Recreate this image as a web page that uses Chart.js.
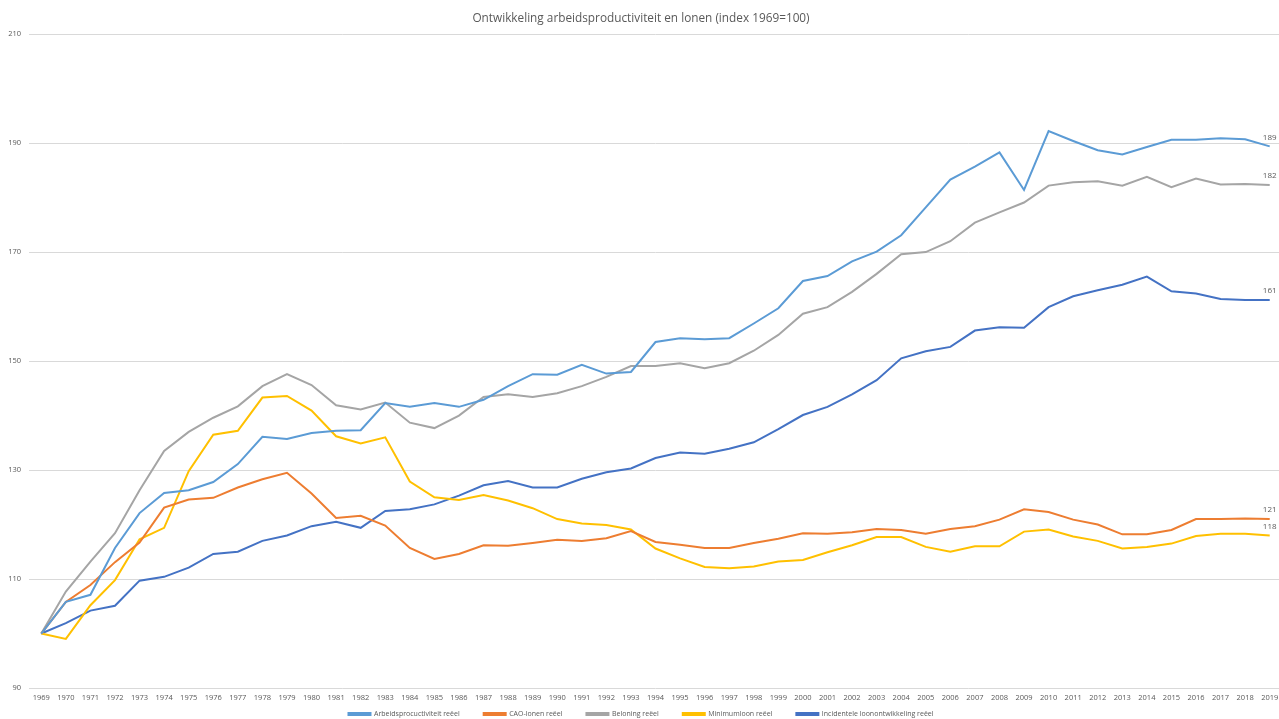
<!DOCTYPE html>
<html>
<head>
<meta charset="utf-8">
<script src="https://cdn.jsdelivr.net/npm/chart.js@4"></script>
<style>
  html, body { margin: 0; padding: 0; background: #fff; overflow: hidden; }
  #wrap { width: 1290px; height: 719px; position: relative; }
</style>
</head>
<body>
<div id="wrap"><canvas id="loonChart"></canvas></div>
<script>
// Years on the category axis
const years = [];
for (let y = 1969; y <= 2019; y++) years.push(String(y));

// Series values (index 1969 = 100)
const arbeidsproductiviteit = [
  100, 105.8, 107.1, 115.7, 122.1, 125.8, 126.3, 127.8, 131.1, 136.1,
  135.7, 136.8, 137.2, 137.3, 142.3, 141.6, 142.3, 141.6, 142.9, 145.4,
  147.6, 147.5, 149.3, 147.7, 148.0, 153.5, 154.2, 154.0, 154.2, 156.9,
  159.7, 164.7, 165.6, 168.3, 170.1, 173.1, 178.2, 183.3, 185.7, 188.3,
  181.4, 192.2, 190.4, 188.7, 187.9, 189.3, 190.6, 190.6, 190.9, 190.7,
  189.4
];
const caoLonen = [
  100, 105.8, 108.9, 113.1, 116.7, 123.1, 124.6, 124.9, 126.8, 128.3,
  129.5, 125.7, 121.2, 121.6, 119.8, 115.7, 113.7, 114.6, 116.2, 116.1,
  116.6, 117.2, 117.0, 117.5, 118.8, 116.8, 116.3, 115.7, 115.7, 116.6,
  117.4, 118.4, 118.3, 118.6, 119.2, 119.0, 118.3, 119.2, 119.7, 120.9,
  122.8, 122.3, 120.9, 120.0, 118.2, 118.2, 119.0, 121.0, 121.0, 121.1,
  121.0
];
const beloning = [
  100, 107.7, 113.2, 118.4, 126.3, 133.5, 137.0, 139.6, 141.7, 145.4,
  147.6, 145.6, 141.9, 141.1, 142.4, 138.7, 137.7, 140.0, 143.4, 143.9,
  143.4, 144.1, 145.4, 147.1, 149.1, 149.1, 149.6, 148.7, 149.6, 151.9,
  154.8, 158.7, 159.9, 162.7, 166.0, 169.6, 170.0, 172.0, 175.4, 177.3,
  179.1, 182.2, 182.8, 183.0, 182.2, 183.8, 181.9, 183.5, 182.4, 182.5,
  182.3
];
const minimumloon = [
  100, 99.0, 105.2, 109.8, 117.3, 119.4, 129.8, 136.5, 137.2, 143.3,
  143.6, 140.9, 136.2, 134.9, 136.0, 127.9, 125.0, 124.5, 125.4, 124.4,
  123.0, 121.0, 120.2, 119.9, 119.1, 115.6, 113.8, 112.2, 112.0, 112.3,
  113.2, 113.5, 114.9, 116.2, 117.7, 117.7, 115.9, 115.0, 116.0, 116.0,
  118.7, 119.1, 117.8, 117.0, 115.6, 115.9, 116.5, 117.9, 118.3, 118.3,
  118.0
];
const incidenteel = [
  100, 101.9, 104.2, 105.1, 109.7, 110.4, 112.1, 114.6, 115.0, 117.0,
  118.0, 119.7, 120.5, 119.4, 122.5, 122.8, 123.7, 125.3, 127.2, 128.0,
  126.8, 126.8, 128.4, 129.6, 130.3, 132.2, 133.2, 133.0, 133.9, 135.1,
  137.5, 140.1, 141.6, 143.9, 146.5, 150.5, 151.8, 152.6, 155.6, 156.2,
  156.1, 159.9, 161.9, 163.0, 164.0, 165.5, 162.8, 162.4, 161.4, 161.2,
  161.2
];

const seriesNames = [
  'Arbeidsprocuctiviteit reëel',
  'CAO-lonen reëel',
  'Beloning reëel',
  'Minimumloon reëel',
  'Incidentele loonontwikkeling reëel'
];
const seriesColors = ['#5B9BD5', '#ED7D31', '#A5A5A5', '#FFC000', '#4472C4'];
const seriesData = [arbeidsproductiviteit, caoLonen, beloning, minimumloon, incidenteel];

const textColor = '#595959';
const fontFamily = "'Open Sans', 'Noto Sans', sans-serif";
const LEGEND_PAD = 24;

// Draw the rounded value above the last point of each line
const endLabels = {
  id: 'endLabels',
  afterDatasetsDraw(chart) {
    const c = chart.ctx;
    c.save();
    c.fillStyle = textColor;
    c.font = '8px ' + fontFamily;
    c.textAlign = 'center';
    c.textBaseline = 'bottom';
    chart.data.datasets.forEach((ds, i) => {
      const meta = chart.getDatasetMeta(i);
      const last = meta.data[meta.data.length - 1];
      const val = ds.data[ds.data.length - 1];
      c.fillText(Math.round(val), last.x, last.y - 5);
    });
    c.restore();
  }
};

// Keep the wide gaps between legend items but let the legend take little height
const legendSqueeze = {
  id: 'legendSqueeze',
  beforeLayout(chart) {
    const lg = chart.legend;
    if (lg && !lg._squeezed) {
      const orig = lg.fit;
      lg.fit = function () { orig.call(this); this.height = 14; };
      lg._squeezed = true;
    }
  },
  afterLayout(chart) {
    const lg = chart.legend;
    if (!lg) return;
    lg.top = 714 - LEGEND_PAD - 3.5;
    lg.bottom = chart.height;
  }
};

const ctx = document.getElementById('loonChart').getContext('2d');
const chart = new Chart(ctx, {
  type: 'line',
  data: {
    labels: years,
    datasets: seriesNames.map((name, i) => ({
      label: name,
      data: seriesData[i],
      borderColor: seriesColors[i],
      backgroundColor: seriesColors[i],
      borderWidth: 2,
      pointRadius: 0,
      tension: 0,
      fill: false
    }))
  },
  options: {
    responsive: true,
    maintainAspectRatio: false,
    animation: false,
    layout: { padding: { left: 0, right: 8, top: 0, bottom: 0 } },
    plugins: {
      title: {
        display: true,
        text: 'Ontwikkeling arbeidsproductiviteit en lonen (index 1969=100)',
        color: textColor,
        font: { family: fontFamily, size: 11.8, weight: 'normal' },
        padding: { top: 12, bottom: 8 }
      },
      legend: {
        position: 'bottom',
        labels: {
          color: textColor,
          font: { family: fontFamily, size: 7 },
          boxWidth: 22,
          boxHeight: 2,
          padding: LEGEND_PAD
        }
      },
      tooltip: { enabled: false }
    },
    scales: {
      x: {
        offset: true,
        grid: { display: false, drawTicks: false },
        border: { display: false },
        ticks: {
          color: textColor,
          font: { family: fontFamily, size: 7.5 },
          autoSkip: false,
          maxRotation: 0,
          padding: 5
        },
        afterFit(scale) { scale.height = 17; }
      },
      y: {
        min: 90,
        max: 210,
        grid: { color: '#D9D9D9', drawTicks: false },
        border: { display: false },
        ticks: {
          stepSize: 20,
          color: textColor,
          font: { family: fontFamily, size: 7.5 },
          padding: 8
        },
        afterFit(scale) { scale.width = 29; }
      }
    }
  },
  plugins: [endLabels, legendSqueeze]
});
</script>
</body>
</html>
